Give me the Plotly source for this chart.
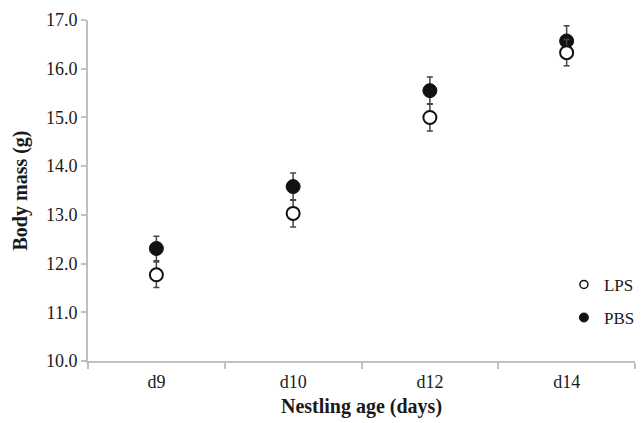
import plotly.graph_objects as go

ages = ["d9", "d10", "d12", "d14"]
lps_mean = [11.77, 13.03, 15.00, 16.33]
lps_err = [0.26, 0.28, 0.28, 0.27]
pbs_mean = [12.31, 13.58, 15.55, 16.57]
pbs_err = [0.25, 0.28, 0.28, 0.31]
y_ticks = [10, 11, 12, 13, 14, 15, 16, 17]
y_ticklabels = ["10.0", "11.0", "12.0", "13.0", "14.0", "15.0", "16.0", "17.0"]

FONT = "Liberation Serif"
ERR = dict(type="data", visible=True, color="#444444", thickness=1.5, width=3)

fig = go.Figure()
fig.add_trace(go.Scatter(
    x=ages, y=pbs_mean, mode="markers", name="PBS", showlegend=False,
    error_y=dict(array=pbs_err, **ERR),
    marker=dict(symbol="circle", size=14, color="#111111", line=dict(color="#111111", width=1)),
))
fig.add_trace(go.Scatter(
    x=ages, y=lps_mean, mode="markers", name="LPS", showlegend=False,
    error_y=dict(array=lps_err, **ERR),
    marker=dict(symbol="circle", size=13, color="white", line=dict(color="#111111", width=2)),
))
# legend entries
fig.add_trace(go.Scatter(
    x=[None], y=[None], mode="markers", name="LPS", legendgroup="a",
    marker=dict(symbol="circle", size=8, color="white", line=dict(color="#111111", width=1.5)),
))
fig.add_trace(go.Scatter(
    x=[None], y=[None], mode="markers", name="PBS", legendgroup="b",
    marker=dict(symbol="circle", size=9, color="#111111", line=dict(color="#111111", width=1)),
))

fig.update_layout(
    width=641, height=423,
    margin=dict(l=88, r=1, t=20, b=62),
    paper_bgcolor="white", plot_bgcolor="white",
    font=dict(family=FONT, size=18, color="#1a1a1a"),
    legend=dict(x=1.009, y=0.175, xanchor="right", yanchor="middle",
                font=dict(family=FONT, size=17, color="#1a1a1a"),
                tracegroupgap=8, itemwidth=30, bgcolor="rgba(0,0,0,0)",
                traceorder="grouped"),
    xaxis=dict(
        type="category", categoryorder="array", categoryarray=ages,
        range=[-0.5, 3.5], automargin=False,
        showline=True, linecolor="#c0c0c0", linewidth=2,
        ticks="outside", tickson="boundaries", ticklen=6, tickcolor="#c0c0c0", tickwidth=1.5,
        ticklabelstandoff=3,
        showgrid=False, zeroline=False,
        tickfont=dict(family=FONT, size=18, color="#1a1a1a"),
        title=dict(text="<b>Nestling age (days)</b>", font=dict(family=FONT, size=20, color="#1a1a1a"), standoff=8),
    ),
    yaxis=dict(
        range=[10, 17], tickvals=y_ticks, ticktext=y_ticklabels, automargin=False,
        showline=True, linecolor="#c0c0c0", linewidth=2,
        ticks="outside", ticklen=5, tickcolor="#c0c0c0", tickwidth=1.5,
        showgrid=False, zeroline=False,
        tickfont=dict(family=FONT, size=18, color="#1a1a1a"),
        title=dict(text="<b>Body mass (g)</b>", font=dict(family=FONT, size=20, color="#1a1a1a"), standoff=13),
    ),
)

fig.write_html("out.html", config={"displayModeBar": False},
               post_script="document.body.style.margin='0';")
